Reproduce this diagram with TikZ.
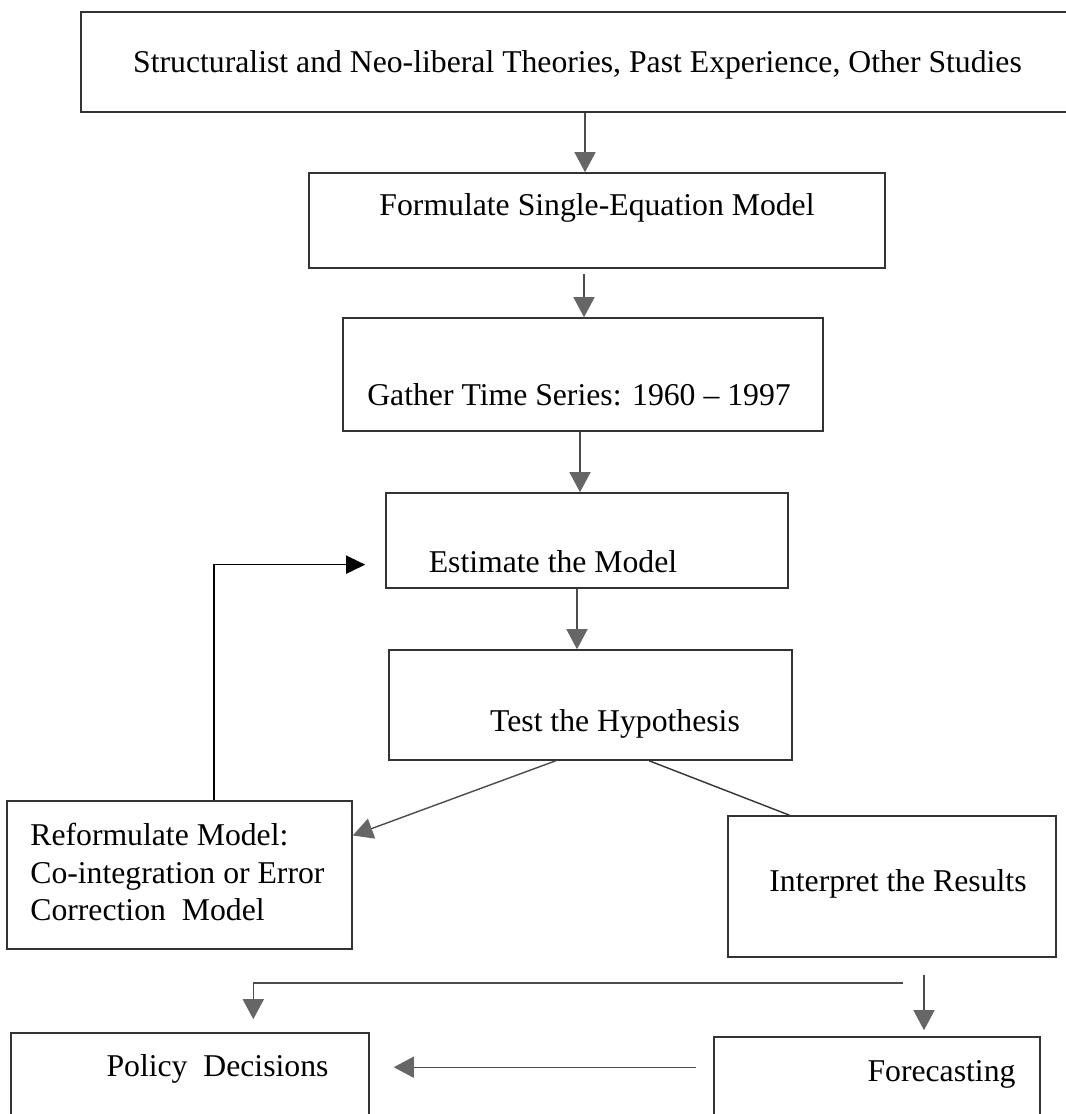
\documentclass[tikz,border=0pt]{standalone}
\usepackage{fontspec}
\setmainfont{Liberation Serif}
\usetikzlibrary{calc,arrows.meta}

\begin{document}
\begin{tikzpicture}[x=0.02cm,y=-0.02cm,
  box/.style={rectangle,draw=black!80,line width=0.9pt,inner sep=0pt},
  lbl/.style={inner sep=0pt,font=\fontsize{18.05}{21.3}\selectfont},
  arr/.style={draw=black!70,line width=0.8pt,-{Triangle[length=0.4cm,width=0.42cm,color=black!60,fill=black!60]}},
  blk/.style={draw=black,line width=0.8pt,-{Triangle[length=0.38cm,width=0.36cm,fill=black]}}]
\useasboundingbox (0,0) rectangle (1065,1114);
\fill[white] (0,0) rectangle (1065,1114);
\foreach \nm/\xl/\yt/\xr/\yb in {src/81/12/1070/112,form/309/173/885/268,gath/343/318/823/431,est/386/493/788/588,test/389/650/792/760,refo/7/801/352/949,intp/728/816/1056/957,pol/11/1033/369/1135,fore/714/1037/1040/1135} {
  \node[box,minimum width={(\xr-\xl)*0.02cm},minimum height={(\yb-\yt)*0.02cm}] (\nm) at ({(\xl+\xr)/2},{(\yt+\yb)/2}) {};
}
\foreach \nm/\xc/\yb/\txt in {src/577.5/73/{Structuralist and Neo-liberal Theories, Past Experience, Other Studies},form/597/216/{Formulate Single-Equation Model},gath/579/405/{Gather Time Series: 1960 -- 1997},est/553/572/{Estimate the Model},test/615/731/{Test the Hypothesis},intp/898/891.5/{Interpret the Results},pol/217.5/1076/{Policy\ \ Decisions},fore/941.5/1081/{Forecasting}} {
  \node[lbl,anchor=base] (\nm-t) at (\xc,\yb) {\txt};
}
\node[lbl,anchor=north west,align=left] (refo-t) at (30,823) {Reformulate Model:\\Co-integration or Error\\Correction\ \ Model};
\coordinate (k1) at (585,0);
\coordinate (k2) at (584,0);
\coordinate (k3) at (580,0);
\coordinate (k4) at (577,0);
\draw[arr] (src.south -| k1) -- (form.north -| k1);
\draw[arr,shorten <=0.1cm] (form.south -| k2) -- (gath.north -| k2);
\draw[arr] (gath.south -| k3) -- (est.north -| k3);
\draw[arr] (est.south -| k4) -- (test.north -| k4);
\draw[arr] ($(test.south west)!0.414!(test.south east)$) -- ($(refo.north east)!0.236!(refo.south east)$);
\draw[draw=black!80,line width=0.8pt] ($(test.south west)!0.645!(test.south east)$) -- ($(intp.north west)!0.189!(intp.north east)$);
\draw[blk] ($(refo.north west)!0.6!(refo.north east)$) |- ($(est.north west)!0.75!(est.south west)+(-20,0)$);
\coordinate (fk) at (924,975);
\draw[arr,shorten >=0.12cm] (fk) -- (fk |- fore.north);
\coordinate (hl) at (903,983);
\draw[arr,shorten >=0.26cm] (hl) -| ($(pol.north west)!0.676!(pol.north east)$);
\coordinate (fc) at ([yshift=-0.62cm]fore.north west);
\draw[arr,shorten <=0.34cm,shorten >=0.48cm] (fc) -- (fc -| pol.east);
\end{tikzpicture}
\end{document}
